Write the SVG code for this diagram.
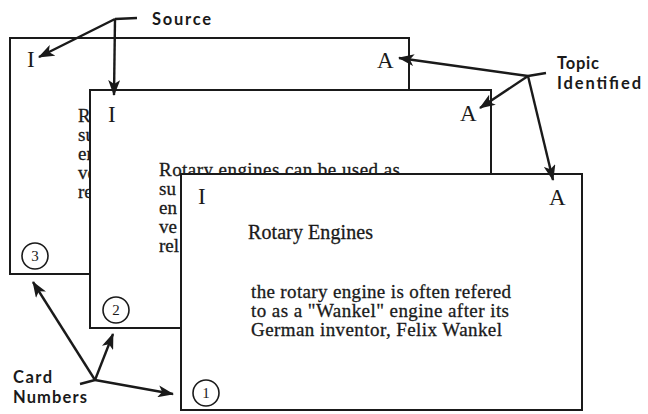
<svg xmlns="http://www.w3.org/2000/svg" width="648" height="414" viewBox="0 0 648 414">
<style>
.card{fill:#fff;stroke:#1a1a1a;stroke-width:2}
.mark{font-family:"Liberation Serif",serif;font-size:23px;fill:#1a1a1a}
.body{font-family:"Liberation Serif",serif;font-size:19px;fill:#1a1a1a;stroke:#1a1a1a;stroke-width:0.3}
.head{font-family:"Liberation Serif",serif;font-size:20px;fill:#1a1a1a;stroke:#1a1a1a;stroke-width:0.3}
.num{font-family:"Liberation Serif",serif;font-size:15px;fill:#1a1a1a;text-anchor:middle}
.circ{fill:none;stroke:#1a1a1a;stroke-width:1.6}
.lbl{font-family:Lato,"Open Sans","Liberation Sans",sans-serif;font-weight:700;font-size:16.5px;fill:#1a1a1a}
.arr{fill:none;stroke:#1a1a1a;stroke-width:2.4;marker-end:url(#ah)}
.tail{fill:none;stroke:#1a1a1a;stroke-width:2.4}
</style>
<defs>
<marker id="ah" markerUnits="userSpaceOnUse" markerWidth="16" markerHeight="12" viewBox="0 0 16 12" refX="15" refY="6" orient="auto">
<path d="M0,0 L16,6 L0,12 L4,6 z" fill="#1a1a1a"/>
</marker>
</defs>
<g id="card3">
<rect class="card" x="10" y="38" width="399" height="236"/>
<text class="mark" x="27" y="67">I</text>
<text class="mark" x="377" y="68">A</text>
<text class="body" x="78" y="122">R</text>
<text class="body" x="78" y="141">su</text>
<text class="body" x="78" y="160">en</text>
<text class="body" x="78" y="179">ve</text>
<text class="body" x="78" y="198">re</text>
<circle class="circ" cx="35" cy="256" r="13"/>
<text class="num" x="35" y="261">3</text>
</g>
<g id="card2">
<rect class="card" x="90" y="90" width="401" height="238"/>
<text class="mark" x="108" y="122">I</text>
<text class="mark" x="460" y="121">A</text>
<text class="body" x="159" y="176" textLength="241">Rotary engines can be used as</text>
<text class="body" x="159" y="195">su</text>
<text class="body" x="159" y="214">en</text>
<text class="body" x="159" y="233">ve</text>
<text class="body" x="159" y="252">rel</text>
<circle class="circ" cx="116" cy="310" r="13"/>
<text class="num" x="116" y="315">2</text>
</g>
<g id="card1">
<rect class="card" x="181" y="174" width="401" height="236"/>
<text class="mark" x="198" y="204">I</text>
<text class="mark" x="549" y="205">A</text>
<text class="head" x="248" y="239" textLength="125">Rotary Engines</text>
<text class="body" x="251" y="298" textLength="260">the rotary engine is often refered</text>
<text class="body" x="251" y="317" textLength="258">to as a "Wankel" engine after its</text>
<text class="body" x="251" y="336" textLength="251">German inventor, Felix Wankel</text>
<circle class="circ" cx="206" cy="393" r="13"/>
<text class="num" x="206" y="398">1</text>
</g>
<g id="connectors">
<path class="tail" d="M137,18 L115,19"/>
<path class="arr" d="M115,19 L39,57"/>
<path class="arr" d="M115,19 L114,95"/>
<path class="tail" d="M546,73 L528,76"/>
<path class="arr" d="M528,76 L399,58"/>
<path class="arr" d="M528,76 L480,108"/>
<path class="arr" d="M528,76 L553,180"/>
<path class="tail" d="M80,384 L95,380"/>
<path class="arr" d="M95,380 L33,282"/>
<path class="arr" d="M95,380 L113,334"/>
<path class="arr" d="M95,380 L173,394"/>
</g>
<g id="labels">
<text class="lbl" x="152" y="25" textLength="59">Source</text>
<text class="lbl" x="557" y="69" textLength="42">Topic</text>
<text class="lbl" x="557" y="89" textLength="84">Identified</text>
<text class="lbl" x="13" y="383" textLength="39">Card</text>
<text class="lbl" x="13" y="403" textLength="74">Numbers</text>
</g>
</svg>
